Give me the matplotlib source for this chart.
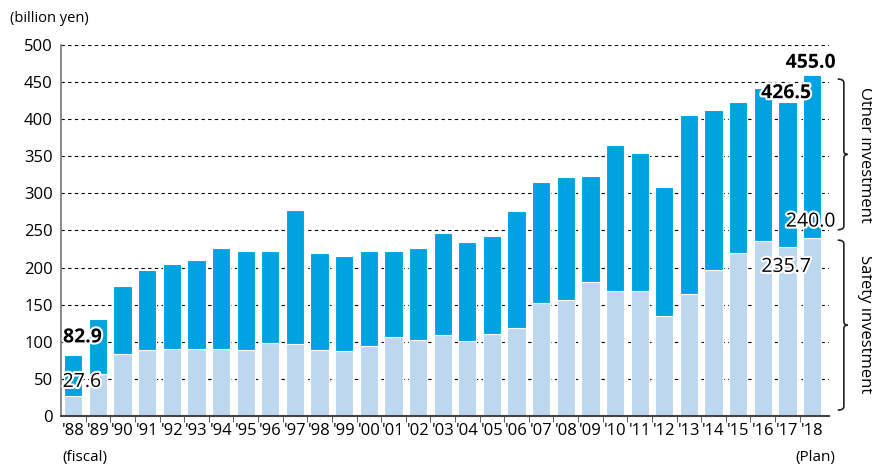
import numpy as np
import matplotlib
matplotlib.use("Agg")
import matplotlib.pyplot as plt
import matplotlib.patheffects as pe
from matplotlib.path import Path
from matplotlib.patches import PathPatch
from matplotlib.transforms import blended_transform_factory

plt.rcParams['font.family'] = ['Open Sans', 'DejaVu Sans']

# fiscal years '88 - '18
years = ["'88", "'89", "'90", "'91", "'92", "'93", "'94", "'95", "'96", "'97",
         "'98", "'99", "'00", "'01", "'02", "'03", "'04", "'05", "'06", "'07",
         "'08", "'09", "'10", "'11", "'12", "'13", "'14", "'15", "'16", "'17", "'18"]
# safety investment (billion yen)
safety = [27.6, 56, 83, 89, 90, 90, 90, 89, 99, 97,
          89, 87, 95, 106, 102, 109, 101, 111, 118, 152,
          156, 181, 168, 168, 135, 164, 197, 220, 236, 228, 240.0]
# total capital investment (billion yen)
total = [82.9, 131, 175, 197, 205, 210, 226, 223, 223, 277,
         219, 215, 223, 222, 227, 246, 235, 242, 276, 315,
         322, 323, 365, 355, 308, 405, 412, 423, 442, 423, 459]

other = [t - s for t, s in zip(total, safety)]
x = np.arange(len(years))

c_dark = '#00a3e0'
c_light = '#bdd7ee'

fig = plt.figure(figsize=(8.72, 4.68), dpi=100)
ax = fig.add_axes([0.070, 0.111, 0.881, 0.793])

ax.bar(x, safety, width=0.74, color=c_light, edgecolor='white', linewidth=0.8, zorder=2)
ax.bar(x, other, width=0.74, bottom=safety, color=c_dark, edgecolor='white', linewidth=0.8, zorder=2)

ax.set_xlim(-0.5, 30.7)
ax.set_ylim(0, 500)
ax.set_yticks(np.arange(0, 501, 50))
ax.yaxis.grid(True, color='black', linestyle=(0, (3, 3)), linewidth=0.8)
ax.set_axisbelow(True)

ax.set_xticks(x)
ax.set_xticklabels(years)
ax.set_xticks(x[:-1] + 0.5, minor=True)
ax.tick_params(axis='x', which='major', length=0, labelsize=12, pad=5)
ax.tick_params(axis='x', which='minor', length=4, color='#444444')
ax.tick_params(axis='y', length=0, labelsize=12, pad=6)

for s in ['top', 'right']:
    ax.spines[s].set_visible(False)
ax.spines['left'].set_color('#777777')
ax.spines['left'].set_linewidth(1.2)
ax.spines['bottom'].set_color('#444444')
ax.spines['bottom'].set_linewidth(1.5)

stroke = [pe.withStroke(linewidth=3, foreground='white')]
ax.text(0.37, 106, '82.9', ha='center', va='center', fontsize=14, fontweight='bold', path_effects=stroke, zorder=5)
ax.text(0.35, 46, '27.6', ha='center', va='center', fontsize=14, path_effects=stroke, zorder=5)
ax.text(29.95, 476, '455.0', ha='center', va='center', fontsize=14, fontweight='bold', path_effects=stroke, zorder=5)
ax.text(28.95, 435, '426.5', ha='center', va='center', fontsize=14, fontweight='bold', path_effects=stroke, zorder=5)
ax.text(29.95, 262, '240.0', ha='center', va='center', fontsize=14, path_effects=stroke, zorder=5)
ax.text(28.95, 201, '235.7', ha='center', va='center', fontsize=14, path_effects=stroke, zorder=5)

fig.text(0.011, 0.96, '(billion yen)', fontsize=10.5, ha='left', va='center')
fig.text(0.072, 0.022, '(fiscal)', fontsize=11, ha='left', va='center')
fig.text(0.958, 0.022, '(Plan)', fontsize=11, ha='right', va='center')

trans = blended_transform_factory(ax.transAxes, ax.transData)


def brace(y0, y1, x0=1.011, w=0.008, d=5):
    x1 = x0 + w
    x2 = x1 + w * 0.6
    ym = (y0 + y1) / 2
    verts = [(x0, y1), (x1, y1), (x1, y1 - d), (x1, ym + d),
             (x1, ym), (x2, ym), (x1, ym), (x1, ym - d),
             (x1, y0 + d), (x1, y0), (x0, y0)]
    codes = [Path.MOVETO, Path.CURVE3, Path.CURVE3, Path.LINETO,
             Path.CURVE3, Path.CURVE3, Path.CURVE3, Path.CURVE3,
             Path.LINETO, Path.CURVE3, Path.CURVE3]
    ax.add_patch(PathPatch(Path(verts, codes), transform=trans, fill=False,
                           edgecolor='#222222', linewidth=1.2, clip_on=False))


brace(251, 454)
brace(8, 237)
ax.text(1.047, 352, 'Other investment', transform=trans, rotation=-90,
        ha='center', va='center', fontsize=12)
ax.text(1.047, 124, 'Safety investment', transform=trans, rotation=-90,
        ha='center', va='center', fontsize=12)

fig.savefig('out.png', dpi=100)
